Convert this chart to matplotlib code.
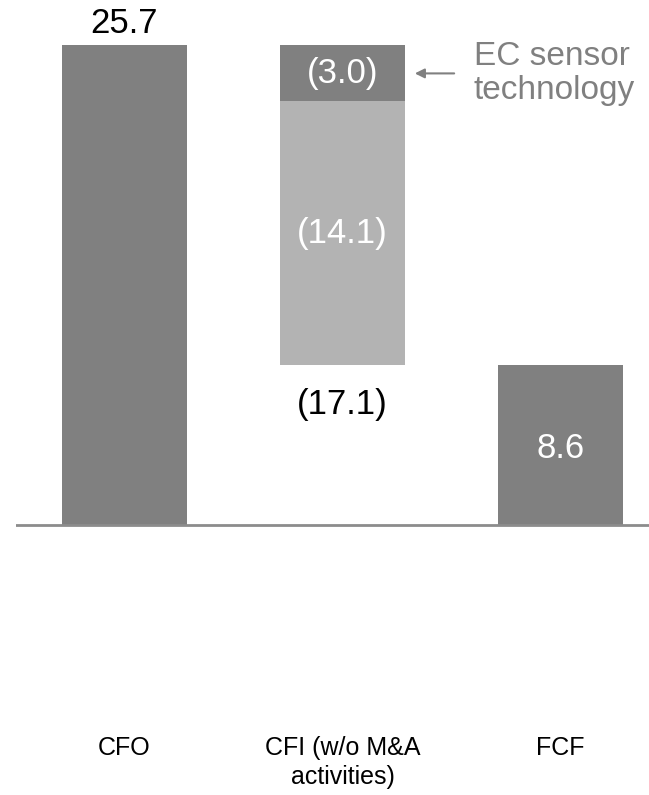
import matplotlib
matplotlib.use('Agg')
import matplotlib.pyplot as plt

plt.rcParams['font.family'] = ['Liberation Sans', 'DejaVu Sans']

# cash flow bridge values (EUR m)
categories = ['CFO', 'CFI (w/o M&A\nactivities)', 'FCF']
cfo = 25.7
ec_sensor = 3.0
cfi_other = 14.1
cfi_total = 17.1
fcf = 8.6

dark = '#808080'
light = '#b3b3b3'
width = 0.573

fig = plt.figure(figsize=(6.49, 7.95), dpi=100)
ax = fig.add_axes([16 / 649, 0, 633 / 649, 1])
ax.set_xlim(-0.4977, 2.406)
ax.set_ylim(-14.43, 28.13)
ax.axis('off')

# bars
ax.bar(0, cfo, width=width, color=dark)
ax.bar(1, ec_sensor, bottom=cfo - ec_sensor, width=width, color=dark)
ax.bar(1, cfi_other, bottom=cfo - cfi_total, width=width, color=light)
ax.bar(2, fcf, width=width, color=dark)
ax.axhline(0, color='#8c8c8c', lw=2)

# value labels
ax.text(0, cfo + 0.64, f'{cfo:.1f}', ha='center', va='baseline', fontsize=25, color='black')
ax.text(1, cfo - ec_sensor / 2, f'({ec_sensor:.1f})', ha='center', va='center', fontsize=25, color='white')
ax.text(1, cfo - ec_sensor - cfi_other / 2, f'({cfi_other:.1f})', ha='center', va='center', fontsize=25, color='white')
ax.text(1, cfo - cfi_total - 2.15, f'({cfi_total:.1f})', ha='center', va='center', fontsize=25, color='black')
ax.text(2, fcf / 2 - 0.2, f'{fcf:.1f}', ha='center', va='center', fontsize=25, color='white')

# callout for the EC sensor technology investment
ax.annotate('', xy=(1.319, cfo - ec_sensor / 2), xytext=(1.525, cfo - ec_sensor / 2),
            arrowprops=dict(arrowstyle='-|>', color=dark, lw=1.5, mutation_scale=14))
ax.text(1.603, cfo - ec_sensor / 2, 'EC sensor\ntechnology', ha='left', va='center',
        fontsize=24, color=dark, linespacing=1.12)

# category labels
for i, lab in enumerate(categories):
    ax.text(i, -11.27, lab, ha='center', va='top', fontsize=18, color='black', linespacing=1.25)

fig.savefig('out.png', dpi=100)
